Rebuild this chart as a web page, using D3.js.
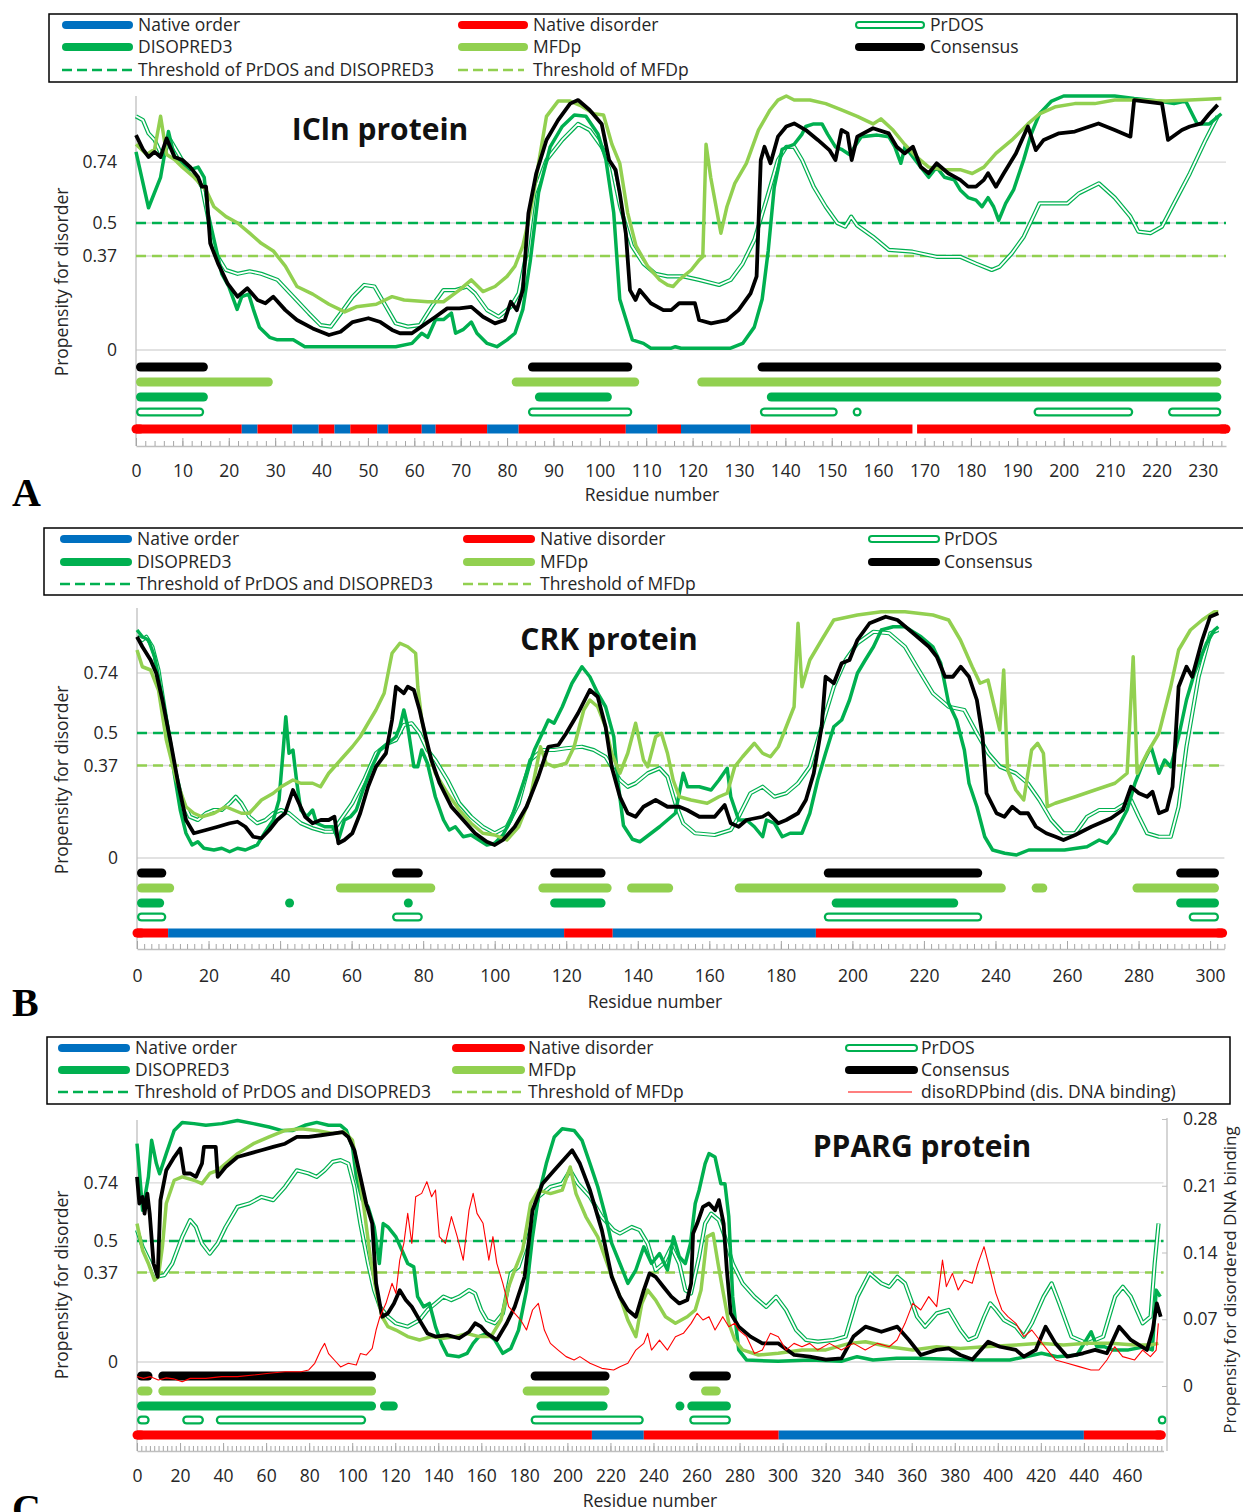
<!DOCTYPE html>
<html>
<head>
<meta charset="utf-8">
<script src="https://cdnjs.cloudflare.com/ajax/libs/d3/7.8.5/d3.min.js"></script>
<style>
body { margin: 0; background: #fff; }
svg { display: block; font-family: "Open Sans", sans-serif; }
.axis text { font-family: "Open Sans", sans-serif; }
</style>
</head>
<body>
<svg id="chart" width="1243" height="1512"></svg>
<script>
// ---- legend / tick labels ----
var legendLabels = ["Native order", "Native disorder", "PrDOS",
                    "DISOPRED3", "MFDp", "Consensus",
                    "Threshold of PrDOS and DISOPRED3", "Threshold of MFDp"];
var dnaLabel = "disoRDPbind (dis. DNA binding)";
var yTicks = [0, 0.37, 0.5, 0.74];
var dnaTicks = [0, 0.07, 0.14, 0.21, 0.28];
var thresholdDiso = 0.5;   // PrDOS and DISOPRED3
var thresholdMfdp = 0.37;

// ---- A: ICln protein ([residue, propensity]) ----
var iclnDiso = [[0,0.78],[2.7,0.56],[5.3,0.68],[7,0.86],[8.3,0.76],[10,0.735],[11.7,0.71],[13.4,0.72],[14.7,0.68],[15.5,0.54],[17,0.42],[18.5,0.30],[20,0.25],[21.8,0.16],[22.8,0.21],[24.3,0.22],[25.3,0.16],[26.6,0.09],[28.8,0.05],[30.5,0.04],[33.9,0.04],[36.4,0.013],[47.5,0.013],[56,0.013],[59.5,0.026],[61.6,0.066],[62.9,0.05],[64.6,0.12],[66.3,0.12],[68,0.145],[68.9,0.066],[70.5,0.08],[72.3,0.11],[73.5,0.066],[75.7,0.026],[77.8,0.013],[80,0.04],[81.7,0.066],[83.4,0.16],[85,0.35],[86.8,0.62],[89.3,0.80],[91.9,0.88],[94.5,0.925],[97,0.92],[99.6,0.85],[101.3,0.75],[103,0.54],[104.3,0.20],[107,0.04],[109.4,0.026],[111,0.007],[115.4,0.007],[116.3,0.013],[117.5,0.007],[128.2,0.007],[130.8,0.026],[133.3,0.09],[135,0.20],[136.3,0.39],[137.6,0.64],[139.3,0.79],[141.9,0.81],[143.6,0.85],[144.4,0.88],[146.1,0.89],[147.9,0.89],[149.1,0.85],[150.8,0.80],[152.1,0.79],[153.8,0.77],[156.4,0.84],[159.8,0.846],[162.3,0.84],[163.6,0.80],[164.9,0.735],[165.8,0.80],[167.5,0.76],[169.2,0.72],[170.9,0.68],[172.6,0.72],[174.3,0.68],[176.4,0.67],[177.7,0.63],[179.4,0.60],[181.1,0.59],[182.4,0.564],[183.7,0.60],[184.9,0.564],[186,0.51],[187.5,0.577],[189.2,0.63],[191.4,0.75],[193,0.85],[194.8,0.93],[197.4,0.98],[200,1.0],[211,1.0],[215.2,0.99],[220.4,0.98],[223.8,0.97],[226.3,0.98],[228.8,0.89],[231.4,0.89],[234,0.93]];
var iclnMfdp = [[0,0.81],[2.3,0.77],[4,0.79],[5.3,0.92],[6.6,0.77],[8.3,0.75],[10,0.72],[12.5,0.68],[15.1,0.63],[16.8,0.564],[19.4,0.525],[21.9,0.50],[24.5,0.46],[27,0.42],[29.6,0.39],[32.2,0.33],[34.7,0.25],[38.1,0.22],[41.6,0.18],[45,0.15],[47.5,0.17],[51.8,0.18],[55.2,0.21],[57.8,0.197],[62.9,0.19],[66.3,0.19],[69.7,0.236],[72.3,0.276],[74.8,0.23],[77.4,0.25],[80,0.29],[81.7,0.33],[83.4,0.41],[85,0.54],[86.8,0.735],[88.5,0.92],[91,0.98],[93.6,0.98],[96.1,0.96],[98.7,0.93],[100.8,0.925],[102.6,0.81],[104.3,0.735],[106,0.54],[107.8,0.41],[110.3,0.33],[112.9,0.276],[114.6,0.256],[115.8,0.25],[117.1,0.276],[119.7,0.315],[121.4,0.354],[122.2,0.367],[122.9,0.81],[123.9,0.68],[126.1,0.46],[127.4,0.564],[129.1,0.656],[131.6,0.735],[134.2,0.866],[136.7,0.945],[138.4,0.984],[140.2,1.0],[141.9,0.984],[145.3,0.984],[148.7,0.97],[152.1,0.945],[155.5,0.92],[158.9,0.89],[160.6,0.91],[163.2,0.866],[165.7,0.81],[168.3,0.76],[170.9,0.72],[174.3,0.71],[177.7,0.71],[180.3,0.695],[182.8,0.72],[185.4,0.774],[188.8,0.826],[192.3,0.89],[194.8,0.93],[198.3,0.958],[202.4,0.97],[206.7,0.97],[211,0.984],[215.2,0.984],[222,0.98],[227.2,0.984],[234,0.99]];
var iclnPrdos = [[0,0.92],[1.5,0.905],[2.7,0.853],[4,0.827],[5.7,0.76],[7.4,0.827],[9.1,0.774],[10.8,0.72],[12.5,0.695],[14.2,0.643],[15.5,0.525],[17.2,0.38],[19.4,0.315],[21.9,0.30],[24.5,0.31],[27,0.30],[30.5,0.276],[33.9,0.21],[37.3,0.144],[39.8,0.098],[42,0.092],[44.1,0.144],[46.7,0.21],[49.2,0.256],[51.4,0.25],[53.5,0.184],[56,0.105],[58.6,0.092],[61.2,0.098],[63.7,0.17],[66.3,0.236],[68.9,0.236],[71.4,0.25],[73.1,0.223],[75.7,0.157],[78.2,0.131],[80.8,0.17],[82.5,0.223],[84.2,0.38],[85.9,0.617],[88.5,0.748],[91.9,0.827],[95.3,0.89],[97.8,0.866],[100.4,0.80],[102.6,0.72],[104.4,0.564],[106.9,0.41],[109.4,0.34],[112,0.30],[114.6,0.29],[118,0.29],[121.4,0.276],[125.7,0.256],[128.2,0.276],[130.8,0.34],[133.3,0.433],[135.9,0.59],[138.4,0.748],[140.2,0.80],[141.9,0.80],[143.6,0.748],[146.1,0.643],[148.7,0.564],[151.2,0.50],[152.9,0.486],[154.2,0.525],[155.5,0.49],[158.9,0.446],[162.3,0.394],[167.4,0.387],[172.6,0.367],[177.7,0.367],[181.1,0.34],[184.5,0.315],[186.2,0.328],[188.8,0.38],[191.4,0.446],[194.8,0.577],[198.3,0.577],[200.8,0.577],[203.3,0.617],[207.6,0.656],[211,0.60],[214.4,0.525],[216.1,0.466],[218.7,0.46],[221.2,0.486],[223.8,0.577],[227.2,0.695],[230.6,0.827],[233.2,0.92]];
var iclnCons = [[0,0.846],[1.5,0.79],[2.7,0.76],[4,0.78],[5.3,0.76],[6.6,0.833],[8.3,0.76],[10,0.748],[11.7,0.72],[13.4,0.68],[14.2,0.643],[15.1,0.643],[16,0.42],[17.7,0.34],[19.8,0.26],[21.9,0.21],[24,0.243],[26.2,0.197],[27.9,0.184],[29.6,0.21],[32.2,0.157],[34.7,0.118],[38.1,0.085],[41.6,0.059],[44.1,0.072],[46.7,0.11],[50.1,0.125],[52.7,0.11],[55.2,0.079],[56.9,0.066],[59.5,0.066],[62,0.098],[64.6,0.131],[67.1,0.164],[69.7,0.164],[72.3,0.17],[74.8,0.131],[77.4,0.105],[79.5,0.118],[80.8,0.19],[82.1,0.157],[83.4,0.236],[84.6,0.538],[86.3,0.696],[88.5,0.827],[91,0.905],[93.6,0.97],[95.3,0.984],[97.8,0.945],[100.4,0.89],[102,0.748],[103.4,0.709],[104.3,0.617],[105.6,0.46],[106.5,0.236],[107.7,0.197],[108.6,0.236],[111,0.184],[113.7,0.157],[115.4,0.157],[117.1,0.184],[120.5,0.184],[121.4,0.118],[124,0.105],[127.4,0.118],[129.9,0.157],[132.5,0.223],[133.8,0.29],[134.7,0.748],[135.5,0.80],[136.8,0.735],[138.4,0.84],[140.2,0.88],[141.9,0.892],[144.4,0.866],[147,0.827],[149.5,0.787],[150.8,0.748],[152.1,0.866],[153.4,0.853],[154.3,0.748],[155.5,0.84],[158.9,0.873],[162.3,0.853],[164,0.80],[165.7,0.774],[167.5,0.80],[169.2,0.72],[170.9,0.696],[172.6,0.735],[175.1,0.696],[177.7,0.67],[179.4,0.643],[181.1,0.643],[182.8,0.67],[183.7,0.696],[185.4,0.643],[187.1,0.696],[189.7,0.774],[192.3,0.88],[194,0.787],[195.7,0.827],[199,0.853],[202.4,0.86],[207.5,0.892],[211,0.866],[214.4,0.84],[215.2,0.984],[221.2,0.97],[222.5,0.827],[225.5,0.866],[227.2,0.88],[229.7,0.892],[231.4,0.93],[233.2,0.965]];
// predicted / native regions [from, to]
var iclnBarCons = [[0,15.5],[84.5,107],[134,234]];
var iclnBarMfdp = [[0,29.5],[81,108.5],[121,234]];
var iclnBarDiso = [[0,15.5],[86,102.6],[136,234]];
var iclnBarPrdos = [[0,14.7],[84.5,107],[134.5,151.3],[154.5,154.5],[193.5,215],[222.5,234]];
var iclnNative = [[0,22.8,"D"],[22.8,26.2,"O"],[26.2,33.7,"D"],[33.7,39.4,"O"],[39.4,42.8,"D"],[42.8,46.2,"O"],[46.2,52,"D"],[52,54.4,"O"],[54.4,61.6,"D"],[61.6,64.6,"O"],[64.6,75.7,"D"],[75.7,82.5,"O"],[82.5,105.6,"D"],[105.6,112.4,"O"],[112.4,117.5,"D"],[117.5,132.5,"O"],[132.5,167.4,"D"],[168.4,235,"D"]];

// ---- B: CRK protein ----
var crkDiso = [[0,0.912],[1.5,0.885],[3.2,0.872],[4.9,0.805],[6,0.725],[8.2,0.552],[10.4,0.339],[12.1,0.192],[13.7,0.099],[15.4,0.052],[17,0.065],[18.7,0.039],[21.5,0.032],[23.7,0.039],[25.9,0.025],[28.1,0.039],[30.3,0.032],[33.6,0.052],[35.9,0.105],[38.1,0.152],[39.7,0.232],[40.8,0.419],[41.6,0.565],[42.5,0.419],[43.6,0.432],[44.7,0.299],[45.8,0.192],[47.5,0.165],[49.1,0.192],[50.2,0.139],[52.5,0.125],[54.7,0.125],[56.3,0.072],[58,0.152],[59.7,0.165],[61.3,0.192],[63.5,0.285],[65.7,0.365],[67.9,0.432],[70.2,0.459],[72.4,0.485],[73.5,0.525],[74.6,0.592],[75.7,0.525],[77.4,0.365],[78.5,0.365],[79.6,0.432],[81.2,0.379],[83.4,0.245],[85.7,0.152],[87.3,0.112],[89,0.125],[91.2,0.085],[93.4,0.092],[95.6,0.072],[97.8,0.052],[100,0.059],[102.3,0.092],[104.5,0.152],[106.7,0.245],[108.9,0.339],[111.1,0.432],[113.3,0.499],[115,0.552],[116.6,0.539],[118.9,0.605],[121.6,0.699],[124.4,0.765],[126.6,0.725],[128.8,0.659],[131,0.605],[133.3,0.485],[134.5,0.3],[136,0.13],[138.5,0.075],[140.6,0.065],[146.1,0.125],[150.5,0.179],[152.7,0.339],[153.9,0.285],[157.2,0.285],[160.5,0.272],[162.7,0.312],[165,0.359],[166,0.245],[168.2,0.152],[170.4,0.152],[172.6,0.125],[174.9,0.085],[176,0.152],[178.2,0.139],[180.4,0.085],[182.6,0.099],[185.9,0.099],[188.1,0.179],[190.3,0.312],[192.5,0.419],[194.8,0.525],[197,0.552],[199.2,0.632],[201.4,0.739],[203.6,0.792],[205.9,0.845],[208.1,0.912],[211.4,0.925],[214.7,0.925],[219.2,0.885],[222.5,0.845],[224.7,0.779],[226.9,0.619],[229.1,0.552],[231.3,0.432],[232.6,0.299],[234.8,0.205],[237,0.085],[239.2,0.032],[242.6,0.019],[245.9,0.012],[249.3,0.032],[254.8,0.032],[259.3,0.032],[265.6,0.045],[269,0.072],[271.2,0.059],[273.4,0.099],[276.8,0.192],[279,0.299],[281.2,0.379],[283.5,0.445],[285.7,0.339],[287.3,0.392],[289,0.365],[291.2,0.485],[293.4,0.632],[295.6,0.739],[299,0.859],[301.2,0.912],[302.3,0.925]];
var crkMfdp = [[0,0.832],[1.5,0.765],[3.8,0.752],[6,0.672],[8.2,0.472],[11,0.312],[13.7,0.205],[15.9,0.179],[18.1,0.165],[21.5,0.179],[24.8,0.205],[27,0.192],[29.2,0.179],[31.4,0.179],[34.8,0.232],[38.1,0.259],[40.3,0.285],[43.6,0.312],[45.8,0.299],[49.1,0.299],[51.3,0.285],[53.6,0.339],[56.9,0.392],[60.2,0.445],[62.4,0.485],[64.6,0.539],[66.8,0.592],[69.1,0.659],[71.3,0.819],[73.5,0.859],[75.7,0.845],[77.9,0.819],[78.5,0.685],[79.6,0.552],[81.2,0.445],[83.4,0.339],[86.8,0.259],[90.1,0.192],[93.4,0.139],[96.7,0.099],[100,0.092],[103.4,0.072],[106.7,0.125],[110,0.245],[112.8,0.445],[114.4,0.379],[116.6,0.365],[120,0.379],[122.2,0.445],[124.9,0.592],[126.6,0.632],[128.8,0.605],[131,0.525],[132.7,0.419],[135,0.339],[137.2,0.419],[139.4,0.539],[141.6,0.392],[142.8,0.365],[145,0.485],[146.6,0.499],[148.3,0.419],[149.9,0.312],[151.6,0.245],[154.9,0.232],[159.4,0.219],[162.7,0.245],[165,0.259],[167.1,0.365],[169.3,0.405],[172.6,0.459],[174.9,0.419],[177.1,0.405],[179.3,0.445],[181.5,0.525],[183.7,0.605],[184.8,0.939],[185.9,0.685],[188.1,0.792],[191.4,0.872],[194.8,0.952],[201.4,0.972],[208.1,0.985],[214.7,0.985],[222.5,0.972],[226.9,0.952],[230.2,0.872],[233.5,0.765],[235.7,0.699],[237.9,0.712],[240.1,0.579],[241.2,0.512],[242.3,0.752],[243.4,0.352],[245.7,0.272],[247.9,0.232],[250.1,0.432],[251.8,0.459],[253.4,0.419],[254.5,0.205],[256.7,0.219],[262.3,0.245],[267.8,0.272],[273.4,0.299],[276.8,0.339],[278.5,0.805],[279.6,0.339],[282.4,0.419],[285.7,0.499],[289,0.685],[291.2,0.832],[294.5,0.912],[297.8,0.952],[301.2,0.985],[302.3,0.985]];
var crkPrdos = [[0,0.885],[1.5,0.872],[2.6,0.885],[4.3,0.845],[6,0.752],[8.2,0.552],[10.4,0.365],[12.6,0.232],[14.8,0.165],[17,0.152],[19.3,0.179],[21.5,0.192],[23.7,0.192],[25.9,0.219],[27.6,0.245],[29.2,0.219],[31.4,0.165],[33.6,0.139],[35.9,0.152],[38.1,0.179],[40.3,0.192],[42.5,0.179],[45.8,0.139],[49.1,0.119],[52.5,0.105],[54.7,0.105],[56.9,0.152],[60.2,0.219],[63.5,0.312],[66.8,0.419],[70.2,0.459],[72.4,0.472],[74.6,0.532],[76.8,0.539],[79,0.499],[81.2,0.432],[83.4,0.392],[86.8,0.312],[90.1,0.219],[93.4,0.165],[96.7,0.125],[100,0.099],[103.4,0.125],[106.7,0.219],[110,0.392],[113.3,0.432],[116.6,0.432],[120,0.439],[124.4,0.445],[127.7,0.432],[131,0.405],[135,0.312],[137.2,0.285],[139.4,0.299],[142.8,0.339],[146.1,0.359],[148.3,0.325],[150.5,0.219],[152.7,0.139],[156,0.099],[161.5,0.092],[166,0.112],[168.2,0.165],[171.5,0.259],[174.9,0.285],[178.2,0.245],[181.5,0.259],[184.8,0.299],[188.1,0.365],[191.4,0.525],[194.8,0.685],[198.1,0.792],[201.4,0.859],[205.9,0.905],[210.3,0.899],[214.7,0.845],[218,0.765],[222.5,0.659],[226.9,0.605],[231.3,0.592],[234.8,0.499],[238,0.419],[241.3,0.365],[245.7,0.339],[249,0.299],[252.3,0.232],[255.6,0.152],[259,0.099],[262.3,0.099],[265.6,0.165],[269,0.192],[273.4,0.192],[277.9,0.232],[280.1,0.165],[282.4,0.099],[285.7,0.085],[289,0.085],[291.2,0.205],[293.4,0.445],[296.8,0.725],[300.1,0.899],[302.3,0.912]];
var crkCons = [[0,0.885],[1.5,0.845],[3.8,0.792],[5.4,0.739],[7.1,0.632],[9.3,0.472],[11.5,0.299],[13.7,0.152],[15.9,0.099],[19.3,0.112],[22.6,0.125],[25.9,0.139],[28.1,0.145],[30.3,0.125],[32.5,0.085],[34.8,0.079],[37,0.112],[39.2,0.152],[41.4,0.179],[43.6,0.272],[45.3,0.219],[47,0.165],[49.1,0.139],[51.4,0.152],[53.6,0.152],[55.2,0.165],[56.3,0.059],[58,0.072],[60.2,0.099],[62.4,0.179],[64.6,0.285],[66.8,0.365],[69.6,0.419],[71.3,0.552],[72.4,0.685],[73.5,0.672],[74.6,0.659],[75.7,0.685],[77.4,0.672],[79,0.592],[80.7,0.485],[82.3,0.392],[84.6,0.299],[87.9,0.205],[91.2,0.152],[94.5,0.099],[97.8,0.065],[100,0.052],[102.3,0.072],[105.6,0.125],[108.9,0.205],[112.2,0.325],[115,0.445],[117.8,0.452],[120,0.499],[123.3,0.579],[126.6,0.672],[128.8,0.645],[131,0.525],[132.7,0.365],[135,0.245],[137.2,0.179],[139.4,0.165],[141.6,0.205],[145,0.232],[148.3,0.205],[151.6,0.205],[153.8,0.192],[157.2,0.165],[161.5,0.165],[164.3,0.212],[166,0.139],[168.2,0.125],[170.4,0.152],[174.9,0.165],[176.5,0.179],[179.3,0.139],[181.5,0.152],[184.8,0.179],[187,0.232],[189.2,0.339],[191.4,0.525],[192.5,0.725],[194.8,0.699],[197,0.779],[199.2,0.792],[201.4,0.872],[204.8,0.939],[209.3,0.965],[212.6,0.952],[217,0.899],[221.4,0.845],[223.6,0.805],[225.9,0.725],[228.1,0.725],[230.3,0.765],[232.6,0.725],[234.8,0.632],[236.4,0.485],[237.5,0.259],[240.3,0.179],[242.5,0.165],[244.7,0.205],[246.9,0.179],[249.1,0.179],[251.3,0.125],[254.2,0.099],[256.8,0.085],[259,0.072],[262.3,0.092],[266.8,0.125],[272.3,0.159],[275.6,0.192],[277.9,0.285],[280.1,0.259],[282.4,0.245],[283.9,0.265],[285.7,0.179],[287.9,0.192],[289.5,0.285],[291.2,0.685],[293.4,0.765],[295,0.725],[297.8,0.872],[300,0.965],[302.3,0.979]];
var crkBarCons = [[0,8.2],[71.3,79.9],[115.5,131],[192,236.3],[290.5,302.5]];
var crkBarMfdp = [[0,10.4],[55.6,83.4],[112.2,132.7],[137,149.9],[167.1,242.9],[250.1,254.5],[278.3,302.5]];
var crkBarDiso = [[0,7.6],[41.4,41.4],[74.6,74.6],[115.5,131],[194.2,229.6],[290.5,302.5]];
var crkBarPrdos = [[0,8.2],[71.3,79.9],[192,236.3],[294,302.5]];
var crkNative = [[0,8.7,"D"],[8.7,119.4,"O"],[119.4,133,"D"],[133,189.8,"O"],[189.8,303.5,"D"]];

// ---- C: PPARG protein ----
var ppargDiso = [[0,0.902],[1.1,0.79],[2.6,0.627],[5.3,0.765],[6.8,0.916],[9,0.82],[10.5,0.778],[13.6,0.861],[17.3,0.957],[21,0.99],[26.5,0.985],[32,0.978],[39.4,0.985],[46.7,0.998],[54.1,0.985],[61.4,0.971],[67,0.957],[72.5,0.957],[78,0.978],[83.5,0.99],[89,0.978],[94.6,0.978],[97.3,0.957],[100.1,0.889],[101.9,0.765],[104.7,0.669],[107.4,0.641],[110.2,0.558],[112.6,0.407],[114.4,0.572],[116.6,0.558],[120.3,0.517],[123.1,0.462],[125.8,0.407],[128.6,0.393],[130.4,0.27],[133.2,0.228],[135.9,0.242],[138.7,0.146],[141.5,0.077],[144.2,0.029],[149.7,0.022],[153.4,0.036],[156.2,0.077],[158.9,0.105],[162.6,0.118],[166.3,0.091],[170,0.036],[173.7,0.056],[177.3,0.132],[181,0.297],[183.8,0.517],[186.5,0.682],[190.2,0.82],[193.9,0.93],[197.6,0.964],[203.1,0.957],[206.8,0.916],[210.5,0.82],[214.1,0.724],[217.8,0.6],[220.6,0.49],[224.4,0.407],[228.1,0.325],[231.8,0.38],[235.5,0.476],[239.1,0.407],[242.8,0.448],[246.5,0.38],[249.3,0.517],[252,0.435],[254.8,0.407],[257.2,0.49],[259.4,0.655],[261.2,0.71],[264,0.82],[265.8,0.861],[268.6,0.847],[271.3,0.737],[273.2,0.737],[275,0.6],[276.8,0.27],[279.6,0.05],[283.3,0.008],[297.9,0.003],[312.6,0.008],[327.3,0.003],[334.6,0.022],[342,0.008],[353,0.015],[362.2,0.015],[390.9,0.008],[405.6,0.008],[412.9,0.022],[420.3,0.036],[427.6,0.022],[436.8,0.029],[443.4,0.125],[446,0.063],[449.7,0.063],[453.4,0.05],[460.7,0.05],[468.1,0.063],[471.8,0.05],[473.6,0.297],[475.5,0.27]];
var ppargMfdp = [[0,0.572],[2.6,0.462],[5.3,0.407],[8.1,0.338],[9.9,0.352],[11.8,0.476],[13.6,0.655],[17.3,0.751],[21,0.765],[26.5,0.751],[30.2,0.737],[33.8,0.779],[37.5,0.792],[41.2,0.82],[46.7,0.861],[54.1,0.902],[61.4,0.93],[68.8,0.957],[76.2,0.964],[83.5,0.957],[90.9,0.944],[96.4,0.95],[100.1,0.916],[102.8,0.792],[105.6,0.627],[108.4,0.435],[111.1,0.297],[113.9,0.187],[116.6,0.146],[120.3,0.132],[125.8,0.105],[131.3,0.091],[136.9,0.105],[142.4,0.098],[147.9,0.105],[153.4,0.118],[158.9,0.105],[164.5,0.105],[169.1,0.173],[172.7,0.311],[175.5,0.38],[179.2,0.462],[182.9,0.655],[186.5,0.71],[192.1,0.696],[197.6,0.71],[201.3,0.806],[204,0.696],[208.6,0.6],[214.1,0.517],[219.6,0.38],[224.4,0.27],[228.1,0.173],[231.8,0.105],[234.6,0.242],[237.3,0.297],[241,0.256],[245.6,0.187],[250.2,0.16],[255.7,0.187],[259.4,0.215],[262.1,0.297],[264.9,0.517],[267.7,0.531],[270,0.407],[272.2,0.297],[275,0.16],[277.8,0.091],[281.4,0.05],[288.8,0.029],[298,0.036],[309,0.05],[320.1,0.05],[331.1,0.077],[338.5,0.084],[349.5,0.063],[360.5,0.05],[371.6,0.063],[382.6,0.056],[393.7,0.063],[408.4,0.07],[419.4,0.077],[430.5,0.07],[441.5,0.077],[452.5,0.077],[463.6,0.07],[470.9,0.07],[474.6,0.077]];
var ppargPrdos = [[0,0.545],[2.6,0.476],[6.3,0.407],[9,0.352],[12.7,0.359],[16.4,0.407],[21,0.517],[24.7,0.586],[27.4,0.558],[30.2,0.49],[33.8,0.448],[37.5,0.49],[41.2,0.558],[46.7,0.641],[52.2,0.655],[57.8,0.682],[63.3,0.669],[68.8,0.724],[74.3,0.792],[79.8,0.779],[83.5,0.765],[87.2,0.792],[90.9,0.827],[94.6,0.834],[98.2,0.82],[101,0.724],[103.8,0.572],[107.4,0.407],[110.2,0.297],[112.9,0.228],[116.6,0.187],[120.3,0.16],[125.8,0.146],[131.3,0.173],[135,0.215],[138.7,0.242],[142.4,0.27],[146.1,0.256],[149.7,0.27],[154.3,0.297],[157.1,0.283],[159.9,0.215],[162.6,0.173],[166.3,0.16],[170,0.201],[173.7,0.366],[177.3,0.393],[181.9,0.517],[186.5,0.682],[192.1,0.724],[197.6,0.737],[201.3,0.792],[204.9,0.737],[210.5,0.682],[216,0.6],[221.5,0.545],[224.4,0.531],[229.9,0.558],[233.6,0.545],[237.3,0.49],[241,0.38],[244.6,0.407],[248.3,0.476],[252,0.407],[254.8,0.297],[257.4,0.283],[261.2,0.435],[264,0.572],[266.8,0.613],[270.4,0.586],[273.2,0.517],[276.8,0.407],[281.4,0.325],[286.9,0.27],[292.4,0.228],[297,0.27],[301.6,0.215],[306.3,0.132],[310.9,0.091],[316.4,0.084],[323.8,0.091],[329.3,0.105],[334.8,0.27],[340.4,0.366],[345.9,0.325],[349.6,0.311],[353.3,0.352],[356.9,0.325],[362.5,0.187],[366.2,0.146],[371.6,0.201],[377.2,0.215],[382.7,0.132],[386.3,0.091],[390,0.105],[393.7,0.187],[396.5,0.242],[399.2,0.215],[402.9,0.173],[408.4,0.146],[412.1,0.105],[415.8,0.16],[421.3,0.27],[425,0.325],[428.6,0.242],[434.2,0.105],[441.5,0.077],[449,0.105],[454.5,0.27],[458.1,0.311],[461.8,0.27],[467.3,0.16],[471,0.187],[472.9,0.407],[474.7,0.572]];
var ppargCons = [[0,0.765],[1.1,0.655],[2.6,0.682],[3.5,0.613],[4.8,0.696],[5.9,0.613],[7.7,0.407],[9.6,0.352],[10.9,0.669],[13.6,0.792],[17.3,0.847],[20.1,0.882],[21.9,0.779],[24.7,0.779],[27.4,0.765],[30.2,0.82],[31.1,0.889],[36.6,0.889],[37.5,0.765],[41.2,0.806],[46.7,0.847],[52.2,0.861],[57.8,0.875],[63.3,0.889],[68.8,0.902],[74.3,0.93],[79.8,0.93],[85.4,0.937],[90.9,0.944],[95.5,0.95],[98.2,0.93],[101,0.875],[103.8,0.765],[106.5,0.655],[109.3,0.572],[111.1,0.325],[113.9,0.187],[116.6,0.201],[119.4,0.242],[122.1,0.297],[124.9,0.256],[127.7,0.228],[131.3,0.173],[135,0.118],[138.7,0.105],[144.2,0.111],[149.7,0.098],[154.3,0.125],[157.1,0.16],[159.9,0.146],[162.6,0.118],[167.2,0.091],[171.8,0.16],[175.5,0.228],[180.1,0.352],[183.8,0.627],[188.4,0.737],[193.9,0.792],[199.4,0.847],[202.2,0.875],[205.8,0.82],[210.5,0.71],[216,0.545],[220.6,0.352],[224.4,0.27],[228.1,0.215],[231.8,0.187],[235.5,0.297],[238.2,0.366],[241,0.352],[244.6,0.311],[248.3,0.27],[252,0.242],[255.7,0.256],[257.5,0.325],[258.4,0.531],[260.3,0.572],[263,0.641],[265.8,0.655],[268.6,0.627],[270.4,0.669],[272.6,0.572],[274.1,0.38],[275.9,0.201],[279.6,0.146],[285.1,0.105],[290.6,0.077],[298,0.077],[305.4,0.029],[312.6,0.022],[320.1,0.01],[327.4,0.015],[332.9,0.105],[338.5,0.146],[345.9,0.125],[353.3,0.146],[358.7,0.091],[364.2,0.029],[371.6,0.05],[377.2,0.056],[382.6,0.029],[388.2,0.01],[395.5,0.084],[401,0.063],[408.4,0.05],[412.1,0.022],[417.6,0.05],[422.2,0.146],[426.8,0.077],[432.3,0.022],[439.6,0.036],[445.2,0.05],[450.7,0.036],[456.4,0.146],[461.8,0.091],[469.3,0.05],[472,0.132],[473.9,0.242],[475.7,0.187]];
// disordered DNA binding propensity (right axis)
var ppargDna = [[0,0.01],[3,0.008],[6.3,0.0098],[9.9,0.0063],[13.6,0.0085],[17,0.0075],[21,0.0045],[24.7,0.008],[32,0.008],[39.4,0.0098],[46.7,0.0098],[54.1,0.0115],[61.4,0.0133],[68.8,0.015],[76.2,0.015],[79.8,0.0168],[82.6,0.0238],[85.4,0.0377],[87.2,0.0447],[89,0.034],[91.8,0.027],[94.6,0.02],[98.2,0.0238],[101.9,0.022],[103.8,0.034],[106.5,0.0325],[109.3,0.0395],[111.1,0.0587],[112.9,0.0727],[115.7,0.0867],[118.5,0.1077],[120.3,0.0972],[122.1,0.132],[124,0.1496],[125.8,0.181],[127.7,0.1496],[129.5,0.1985],[132.3,0.202],[134.7,0.2143],[136.9,0.1985],[138.7,0.2055],[140.5,0.1566],[143.3,0.1496],[146.1,0.1776],[148.8,0.1566],[151.6,0.132],[154.3,0.1845],[156.2,0.202],[158,0.181],[160.8,0.1706],[163.5,0.132],[165.4,0.1566],[167.2,0.1286],[170,0.1077],[172.7,0.0832],[175.5,0.0762],[178.3,0.0692],[181,0.0587],[183.8,0.0797],[186.5,0.0867],[189.3,0.0587],[192.1,0.0447],[195.7,0.0377],[199.4,0.0308],[203.1,0.0273],[205.8,0.0308],[210.5,0.0238],[216,0.0185],[221.5,0.0168],[224.4,0.0203],[228.1,0.0238],[231.8,0.0377],[235.5,0.0447],[237.3,0.0552],[239.1,0.0377],[242.8,0.0482],[246.5,0.0377],[250.2,0.0517],[253.9,0.0552],[257.5,0.0657],[260.3,0.0762],[263,0.0692],[265.8,0.0727],[268.6,0.0587],[272.2,0.0727],[275,0.0622],[277.8,0.0657],[279.6,0.0587],[283.3,0.0517],[286.9,0.034],[290.6,0.0377],[294.3,0.0552],[298,0.0517],[301.6,0.0377],[305.3,0.0447],[309,0.0412],[312.6,0.0447],[316.3,0.0377],[321.8,0.0447],[327.3,0.0377],[332.9,0.0447],[338.4,0.0377],[344,0.0447],[349.5,0.0412],[353.2,0.0482],[356.9,0.0657],[360.5,0.0867],[364.2,0.0797],[367.9,0.0937],[371.6,0.0832],[374.3,0.132],[376.1,0.1042],[378.9,0.1181],[381.6,0.1007],[384.4,0.1112],[388.1,0.1077],[390.8,0.1286],[393.6,0.1461],[396.4,0.1216],[399.1,0.0972],[401.9,0.0797],[404.7,0.0727],[408.4,0.0657],[412.1,0.0517],[415.8,0.0587],[419.4,0.0482],[423.1,0.0377],[426.8,0.0273],[432.3,0.0238],[437.8,0.0203],[443.3,0.0168],[447,0.0168],[450.7,0.0273],[454.3,0.0412],[458,0.0308],[463.6,0.0273],[467.3,0.0377],[470.9,0.0308],[473.6,0.0377],[474.6,0.0657]];
var ppargBarCons = [[0,7.2],[9.9,111.1],[182.9,219.6],[256.6,276]];
var ppargBarMfdp = [[0,7.2],[9.9,111.1],[179.2,219.6],[262.1,271.3]];
var ppargBarDiso = [[0,111.1],[112.9,121.2],[185.6,218.7],[250.2,250.2],[255.7,276]];
var ppargBarPrdos = [[0,5.9],[21,31.1],[36.6,106.5],[182.9,235.5],[256.6,276],[474.3,474.3]];
var ppargNative = [[0,211.4,"D"],[211.4,235.5,"O"],[235.5,298.2,"D"],[298.2,440,"O"],[440,476,"D"]];

// ---- styles ----
var GREEN = "#00B050", LIME = "#92D050", BLUE = "#0070C0", RED = "#FF0000",
    GRID = "#D9D9D9", AXIS = "#BFBFBF", TXT = "#262626";
var FS = 17.5;   // base font size for labels

var svg = d3.select("#chart");

var panels = [
  { letter: "A", letterY: 506, title: "ICln protein", titleX: 380, titleY: 140,
    legend: { x0: 49, x1: 1237, y0: 14, y1: 82, rows: [25, 47, 70],
              cols: [[62, 133, 138], [458, 528, 533], [855, 925, 930]] },
    x0: 136, x1: 1226, xMax: 235, yZero: 350, yOne: 96, axisY: 446,
    rowOff: [17, 32, 47, 62, 79], labelStep: 10, labelPad: 19,
    yTitleY: 282, xTitleX: 652, xTitleY: 501,
    diso: iclnDiso, mfdp: iclnMfdp, prdos: iclnPrdos, cons: iclnCons,
    bars: [iclnBarCons, iclnBarMfdp, iclnBarDiso, iclnBarPrdos], native: iclnNative },
  { letter: "B", letterY: 1016, title: "CRK protein", titleX: 609, titleY: 650,
    legend: { x0: 44, x1: 1250, y0: 528, y1: 595, rows: [539, 562, 584],
              cols: [[60, 132, 137], [463, 535, 540], [868, 940, 944]] },
    x0: 137, x1: 1224.4, xMax: 304, yZero: 858, yOne: 608, axisY: 949,
    rowOff: [15, 30, 45, 59, 75], labelStep: 20, labelPad: 21,
    yTitleY: 780, xTitleX: 655, xTitleY: 1008,
    diso: crkDiso, mfdp: crkMfdp, prdos: crkPrdos, cons: crkCons,
    bars: [crkBarCons, crkBarMfdp, crkBarDiso, crkBarPrdos], native: crkNative },
  { letter: "C", letterY: 1522, title: "PPARG protein", titleX: 922, titleY: 1157,
    legend: { x0: 47, x1: 1230, y0: 1037, y1: 1104, rows: [1048, 1070, 1092],
              cols: [[58, 130, 135], [452, 525, 528], [845, 918, 921]] },
    x0: 137, x1: 1163.5, xMax: 477, yZero: 1362, yOne: 1120, axisY: 1451,
    rowOff: [14, 29, 44, 58, 73], labelStep: 20, labelPad: 19,
    yTitleY: 1285, xTitleX: 650, xTitleY: 1507,
    diso: ppargDiso, mfdp: ppargMfdp, prdos: ppargPrdos, cons: ppargCons,
    bars: [ppargBarCons, ppargBarMfdp, ppargBarDiso, ppargBarPrdos], native: ppargNative,
    dna: ppargDna }
];

function swatch(g, x1, x2, y, kind, color) {
  if (kind === "bar" || kind === "hollow") {
    g.append("line").attr("x1", x1 + 4).attr("x2", x2 - 4).attr("y1", y).attr("y2", y)
      .attr("stroke", color).attr("stroke-width", 8).attr("stroke-linecap", "round");
    if (kind === "hollow") {
      g.append("line").attr("x1", x1 + 4).attr("x2", x2 - 4).attr("y1", y).attr("y2", y)
        .attr("stroke", "#fff").attr("stroke-width", 4).attr("stroke-linecap", "round");
    }
  } else if (kind === "dash") {
    g.append("line").attr("x1", x1).attr("x2", x2).attr("y1", y).attr("y2", y)
      .attr("stroke", color).attr("stroke-width", 2.5).attr("stroke-dasharray", "10,5");
  } else {
    g.append("line").attr("x1", x1).attr("x2", x2).attr("y1", y).attr("y2", y)
      .attr("stroke", color).attr("stroke-width", 1.2);
  }
}

function drawLegend(p) {
  var L = p.legend;
  var g = svg.append("g");
  g.append("rect").attr("x", L.x0).attr("y", L.y0)
    .attr("width", L.x1 - L.x0).attr("height", L.y1 - L.y0)
    .attr("fill", "#fff").attr("stroke", "#000").attr("stroke-width", 1.5);
  var kinds = [["bar", BLUE], ["bar", RED], ["hollow", GREEN],
               ["bar", GREEN], ["bar", LIME], ["bar", "#000"],
               ["dash", GREEN], ["dash", LIME]];
  legendLabels.forEach(function(name, i) {
    var row = Math.floor(i / 3), col = i % 3, c = L.cols[col];
    var x2 = kinds[i][0] === "dash" && col === 1 ? c[1] - 4 : c[1];
    swatch(g, c[0], x2, L.rows[row], kinds[i][0], kinds[i][1]);
    g.append("text").attr("x", c[2]).attr("y", L.rows[row]).attr("dy", "0.36em")
      .attr("font-size", FS).attr("fill", TXT).text(name);
  });
  if (p.dna) {
    var c = L.cols[2];
    swatch(g, c[0] + 3, c[1] - 6, L.rows[2], "thin", RED);
    g.append("text").attr("x", c[2]).attr("y", L.rows[2]).attr("dy", "0.36em")
      .attr("font-size", FS).attr("fill", TXT).text(dnaLabel);
  }
}

function drawPanel(p) {
  drawLegend(p);
  var g = svg.append("g");
  var x = d3.scaleLinear().domain([0, p.xMax]).range([p.x0, p.x1]);
  var y = d3.scaleLinear().domain([0, 1]).range([p.yZero, p.yOne]);

  // gridlines
  g.selectAll("line.grid").data(yTicks).enter().append("line")
    .attr("x1", p.x0).attr("x2", p.x1)
    .attr("y1", function(d) { return y(d); }).attr("y2", function(d) { return y(d); })
    .attr("stroke", GRID).attr("stroke-width", 1.3);

  // left axis: line + labels
  g.append("line").attr("x1", p.x0).attr("x2", p.x0).attr("y1", p.yOne).attr("y2", p.axisY)
    .attr("stroke", AXIS).attr("stroke-width", 1.3);
  var ya = g.append("g").attr("class", "axis").attr("transform", "translate(" + p.x0 + ",0)")
    .call(d3.axisLeft(y).tickValues(yTicks).tickSize(0).tickPadding(19)
      .tickFormat(function(d) { return String(d); }));
  ya.select(".domain").remove();
  ya.selectAll("text").attr("font-size", FS).attr("fill", TXT);

  // threshold lines
  [[thresholdDiso, GREEN], [thresholdMfdp, LIME]].forEach(function(t) {
    g.append("line").attr("x1", p.x0).attr("x2", p.x1)
      .attr("y1", y(t[0])).attr("y2", y(t[0]))
      .attr("stroke", t[1]).attr("stroke-width", 2.5).attr("stroke-dasharray", "10,6");
  });

  // x axis at bottom, ticks pointing up
  var minor = g.append("g").attr("transform", "translate(0," + p.axisY + ")")
    .call(d3.axisBottom(x).tickValues(d3.range(0, p.xMax + 0.1, 2))
      .tickSize(-5).tickSizeOuter(0).tickFormat(""));
  minor.select(".domain").attr("stroke", AXIS).attr("stroke-width", 1.3);
  minor.selectAll(".tick line").attr("stroke", "#A6A6A6");
  var major = g.append("g").attr("class", "axis").attr("transform", "translate(0," + p.axisY + ")")
    .call(d3.axisBottom(x).tickValues(d3.range(0, p.xMax, p.labelStep))
      .tickSize(-8).tickSizeOuter(0).tickPadding(p.labelPad));
  major.select(".domain").remove();
  major.selectAll(".tick line").attr("stroke", "#A6A6A6");
  major.selectAll("text").attr("font-size", FS).attr("fill", TXT);

  // series
  var line = d3.line().x(function(d) { return x(d[0]); }).y(function(d) { return y(d[1]); });
  g.append("path").attr("d", line(p.prdos)).attr("fill", "none")
    .attr("stroke", GREEN).attr("stroke-width", 4.2).attr("stroke-linejoin", "round");
  g.append("path").attr("d", line(p.prdos)).attr("fill", "none")
    .attr("stroke", "#fff").attr("stroke-width", 1.8).attr("stroke-linejoin", "round");
  g.append("path").attr("d", line(p.diso)).attr("fill", "none")
    .attr("stroke", GREEN).attr("stroke-width", 3.5).attr("stroke-linejoin", "round");
  g.append("path").attr("d", line(p.mfdp)).attr("fill", "none")
    .attr("stroke", LIME).attr("stroke-width", 3.5).attr("stroke-linejoin", "round");
  g.append("path").attr("d", line(p.cons)).attr("fill", "none")
    .attr("stroke", "#000").attr("stroke-width", 3.8).attr("stroke-linejoin", "round");

  // predicted region bars
  var barColors = ["#000", LIME, GREEN, GREEN];
  p.bars.forEach(function(set, i) {
    var yy = p.yZero + p.rowOff[i];
    g.selectAll(null).data(set).enter().append("line")
      .attr("x1", function(d) { return x(d[0]) + 4.5; })
      .attr("x2", function(d) { return Math.max(x(d[0]) + 4.5, x(d[1]) - 4.5); })
      .attr("y1", yy).attr("y2", yy)
      .attr("stroke", barColors[i]).attr("stroke-width", 9).attr("stroke-linecap", "round");
    if (i === 3) {
      g.selectAll(null).data(set).enter().append("line")
        .attr("x1", function(d) { return x(d[0]) + 4.5; })
        .attr("x2", function(d) { return Math.max(x(d[0]) + 4.5, x(d[1]) - 4.5); })
        .attr("y1", yy).attr("y2", yy)
        .attr("stroke", "#fff").attr("stroke-width", 4.5).attr("stroke-linecap", "round");
    }
  });
  // native order / disorder
  var ny = p.yZero + p.rowOff[4];
  g.selectAll(null).data(p.native).enter().append("line")
    .attr("x1", function(d) { return x(d[0]); }).attr("x2", function(d) { return x(d[1]); })
    .attr("y1", ny).attr("y2", ny)
    .attr("stroke", function(d) { return d[2] === "D" ? RED : BLUE; })
    .attr("stroke-width", 9).attr("stroke-linecap", "butt");
  var first = p.native[0], last = p.native[p.native.length - 1];
  g.append("line").attr("x1", x(first[0])).attr("x2", x(first[0]) + 4).attr("y1", ny).attr("y2", ny)
    .attr("stroke", first[2] === "D" ? RED : BLUE).attr("stroke-width", 9).attr("stroke-linecap", "round");
  g.append("line").attr("x1", x(last[1]) - 4).attr("x2", x(last[1])).attr("y1", ny).attr("y2", ny)
    .attr("stroke", last[2] === "D" ? RED : BLUE).attr("stroke-width", 9).attr("stroke-linecap", "round");

  // right axis for DNA binding
  if (p.dna) {
    var yd = d3.scaleLinear().domain([0, 0.28]).range([1386, 1119]);
    var rx = 1167;
    g.append("line").attr("x1", rx).attr("x2", rx).attr("y1", 1118).attr("y2", p.axisY)
      .attr("stroke", AXIS).attr("stroke-width", 1.3);
    var ra = g.append("g").attr("class", "axis").attr("transform", "translate(" + rx + ",0)")
      .call(d3.axisRight(yd).tickValues(dnaTicks).tickSize(-5).tickPadding(16)
        .tickFormat(function(d) { return String(d); }));
    ra.select(".domain").remove();
    ra.selectAll(".tick line").attr("stroke", AXIS);
    ra.selectAll("text").attr("font-size", FS).attr("fill", TXT);
    var dline = d3.line().x(function(d) { return x(d[0]); }).y(function(d) { return yd(d[1]); });
    g.append("path").attr("d", dline(p.dna)).attr("fill", "none")
      .attr("stroke", RED).attr("stroke-width", 1.1).attr("stroke-linejoin", "round");
    g.append("text").attr("transform", "translate(1236,1280) rotate(-90)")
      .attr("text-anchor", "middle").attr("font-size", 17).attr("fill", TXT)
      .text("Propensity for disordered DNA binding");
  }

  // titles and labels
  g.append("text").attr("x", p.titleX).attr("y", p.titleY).attr("text-anchor", "middle")
    .attr("font-size", 30).attr("font-weight", "bold").attr("fill", "#111").text(p.title);
  g.append("text").attr("transform", "translate(68," + p.yTitleY + ") rotate(-90)")
    .attr("text-anchor", "middle").attr("font-size", FS).attr("fill", TXT)
    .text("Propensity for disorder");
  g.append("text").attr("x", p.xTitleX).attr("y", p.xTitleY).attr("text-anchor", "middle")
    .attr("font-size", FS).attr("fill", TXT).text("Residue number");
  g.append("text").attr("x", 12).attr("y", p.letterY)
    .attr("font-family", "'Liberation Serif', serif").attr("font-weight", "bold")
    .attr("font-size", 40).attr("fill", "#000").text(p.letter);
}

panels.forEach(drawPanel);
</script>
</body>
</html>
